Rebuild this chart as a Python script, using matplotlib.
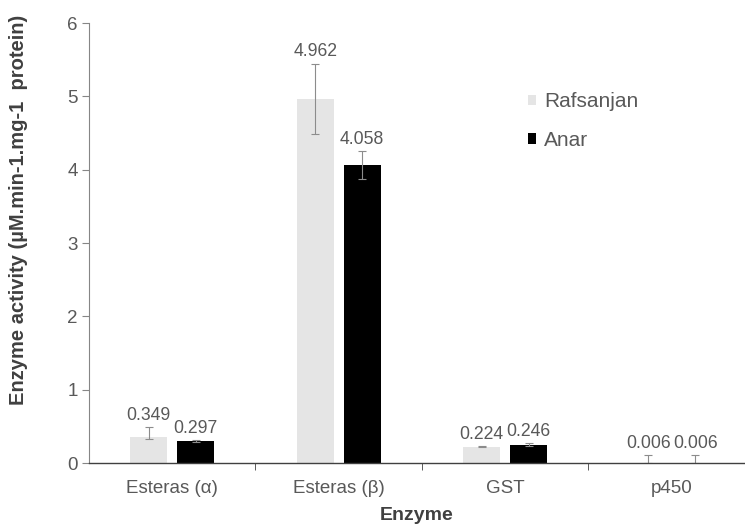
import matplotlib
matplotlib.use("Agg")
import matplotlib.pyplot as plt
import numpy as np

plt.rcParams['font.family'] = ['Liberation Sans', 'DejaVu Sans']

categories = ["Esteras (\u03b1)", "Esteras (\u03b2)", "GST", "p450"]
rafsanjan = [0.349, 4.962, 0.224, 0.006]
anar = [0.297, 4.058, 0.246, 0.006]
raf_err_low = [0.02, 0.48, 0.005, 0.0]
raf_err_up = [0.14, 0.48, 0.005, 0.10]
anar_err_low = [0.01, 0.19, 0.02, 0.0]
anar_err_up = [0.01, 0.19, 0.02, 0.10]
raf_labels = ["0.349", "4.962", "0.224", "0.006"]
anar_labels = ["0.297", "4.058", "0.246", "0.006"]

txt = "#595959"
fig = plt.figure(figsize=(7.45, 5.24), dpi=100)
ax = fig.add_axes([89/745, 61/524, 656/745, 440/524])

x = np.arange(len(categories))
w = 0.222
off = 0.141
ekw = dict(ecolor="#8c8c8c", elinewidth=0.8, capsize=3, capthick=0.8)
ax.bar(x - off, rafsanjan, w, color="#e5e5e5", label="Rafsanjan",
       yerr=[raf_err_low, raf_err_up], error_kw=ekw, zorder=2)
ax.bar(x + off, anar, w, color="#000000", label="Anar",
       yerr=[anar_err_low, anar_err_up], error_kw=ekw, zorder=2)

for i in range(len(categories)):
    ax.annotate(raf_labels[i], (x[i] - off, rafsanjan[i] + raf_err_up[i]),
                xytext=(0, 2.5), textcoords="offset points", ha="center",
                va="bottom", fontsize=12.7, color=txt)
    ax.annotate(anar_labels[i], (x[i] + off, anar[i] + anar_err_up[i]),
                xytext=(0, 2.5), textcoords="offset points", ha="center",
                va="bottom", fontsize=12.7, color=txt)

ax.set_xlim(-0.5, 3.44)
ax.set_ylim(0, 6)
ax.set_yticks(range(0, 7))
ax.set_xticks(x)
ax.set_xticklabels(categories)
ax.set_xticks([0.5, 1.5, 2.5], minor=True)
ax.tick_params(axis='x', which='major', length=0, pad=12, labelsize=13.5, labelcolor=txt)
ax.tick_params(axis='x', which='minor', length=5, direction='out', color="#404040")
ax.tick_params(axis='y', length=5, direction='out', color="#868686", labelsize=13.5,
               labelcolor=txt, pad=3)

for s in ['top', 'right']:
    ax.spines[s].set_visible(False)
ax.spines['left'].set_color("#868686")
ax.spines['bottom'].set_color("#404040")
ax.spines['bottom'].set_linewidth(1.0)
ax.spines['left'].set_linewidth(0.8)

ax.set_ylabel("Enzyme activity (\u00b5M.min-1.mg-1  protein)", fontsize=14.5,
              fontweight='bold', color="#404040")
ax.yaxis.set_label_coords(-0.093, 0.575)
ax.set_xlabel("Enzyme", fontsize=14, fontweight='bold', color="#404040")
ax.xaxis.set_label_coords(0.5, -0.1)

leg = ax.legend(loc='upper left', bbox_to_anchor=(0.64, 0.885), frameon=False,
                fontsize=15, handlelength=0.4, handleheight=0.4, handletextpad=0.4,
                labelspacing=0.95, labelcolor=txt)

fig.savefig("out.png", dpi=100)
